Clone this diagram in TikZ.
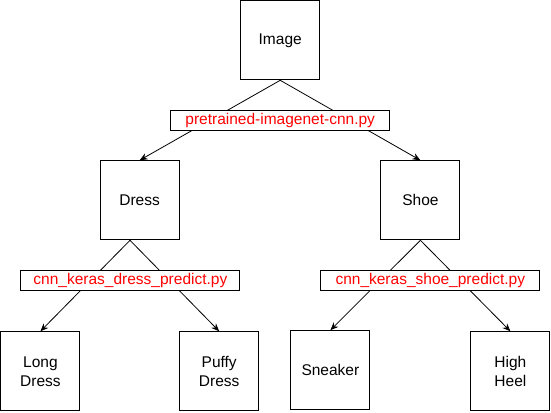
\documentclass[tikz,border=0pt]{standalone}
\usepackage{fontspec}
\setmainfont{Liberation Sans}
\usetikzlibrary{arrows.meta}
\begin{document}
\begin{tikzpicture}[x=1pt,y=-1pt,
  box/.style={draw, line width=1pt, minimum width=79pt, minimum height=79pt, inner sep=0pt, align=center, font=\fontsize{15.5}{19}\selectfont},
  lbl/.style={draw, fill=white, line width=1pt, minimum width=219pt, minimum height=19.5pt, inner sep=0pt, text=red, font=\fontsize{15.5}{19}\selectfont},
  conn/.style={line width=0.8pt, -{Stealth[length=8pt,width=6.5pt]}}]
\useasboundingbox (0,0) rectangle (551,412);
\node[box] (img) at (280.2,40.3) {Image};
\node[box] (dress) at (139.6,200.3) {Dress};
\node[box] (shoe) at (420.4,200.3) {Shoe};
\node[box] (long) at (40.4,371.3) {Long\\Dress};
\node[box] (puffy) at (219.2,371.3) {Puffy\\Dress};
\node[box] (sneaker) at (330.4,370.2) {Sneaker};
\node[box] (heel) at (510.4,371.3) {High\\Heel};
\coordinate (dx) at ([xshift=-9.6pt]dress.south);
\draw[conn] (img.south) -- (dress.north);
\draw[conn] (img.south) -- (shoe.north);
\draw[conn] (dx) -- (long.north);
\draw[conn] (dx) -- (puffy.north);
\draw[conn] (shoe.south) -- (sneaker.north);
\draw[conn] (shoe.south) -- (heel.north);
\node[lbl] (l1) at (280.2,120.5) {pretrained-imagenet-cnn.py};
\node[lbl] (l2) at (130.4,280.5) {cnn\_keras\_dress\_predict.py};
\node[lbl] (l3) at (430.3,280.5) {cnn\_keras\_shoe\_predict.py};
\end{tikzpicture}
\end{document}
